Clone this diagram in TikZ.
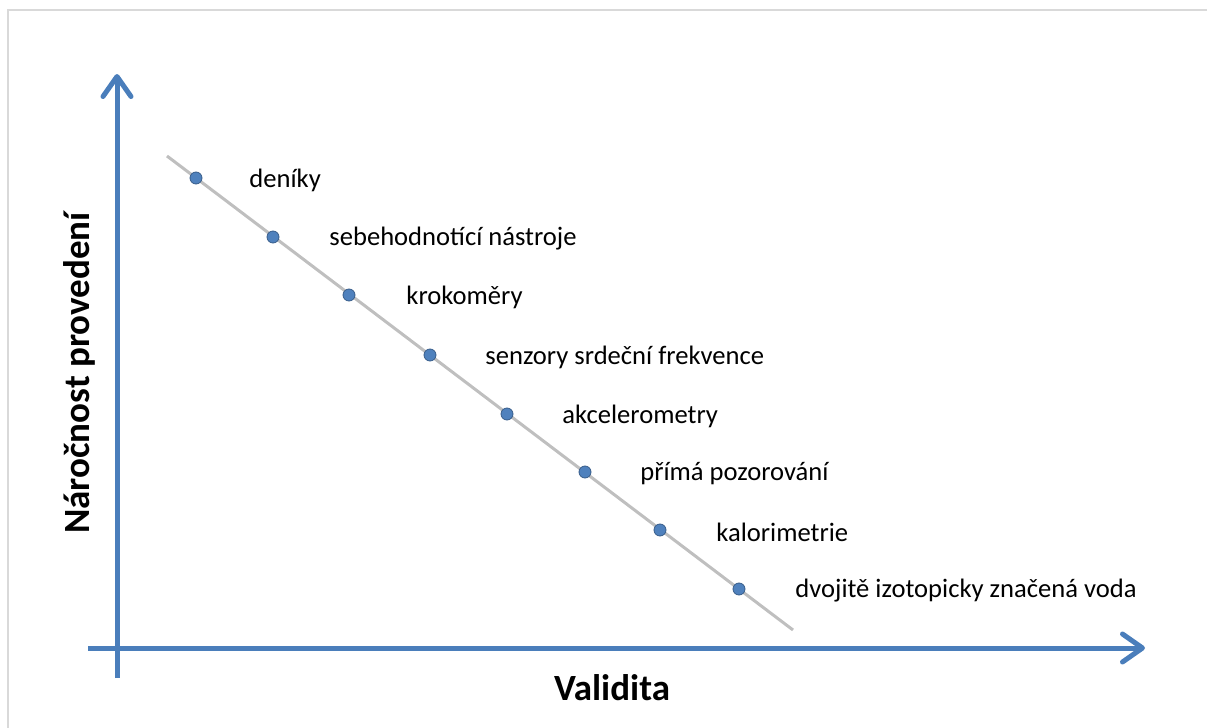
\documentclass[tikz,border=0pt]{standalone}
\usepackage{fontspec}
\setmainfont{Carlito}
\usetikzlibrary{arrows.meta}
\definecolor{axisblue}{HTML}{4A7EBB}
\definecolor{dotblue}{HTML}{4F81BD}
\definecolor{dotedge}{HTML}{385D8A}
\definecolor{trend}{HTML}{BFBFBF}
\definecolor{frame}{HTML}{D9D9D9}
\begin{document}
\begin{tikzpicture}[x=0.5pt,y=-0.5pt]
        \tikzset{
            pt/.style={circle,minimum size=6pt,inner sep=0pt,fill=dotblue,draw=dotedge,line width=0.4pt},
            lab/.style={anchor=west,inner sep=0pt,font=\fontsize{13.3}{16}\selectfont},
            ax/.style={axisblue,line width=2.5pt,-{Straight Barb[length=10pt,width=14pt,round]}},
            tl/.style={trend,line width=1.5pt},
            ttl/.style={font=\fontsize{18.5}{22}\selectfont\bfseries}
            }
            \useasboundingbox (0,0) rectangle (1207,728);
            \draw[frame,line width=1pt] (7.5,728) -- (7.5,10) -- (1207,10);

            \coordinate (l1) at (167,156);
            \coordinate (l2) at (793,630);
            \draw[tl] (l1) -- (l2);

            \node[pt] (n1) at (196,178) {};
            \node[pt] (n2) at (273,237) {};
            \node[pt] (n3) at (349,295) {};
            \node[pt] (n4) at (430,355) {};
            \node[pt] (n5) at (507,414) {};
            \node[pt] (n6) at (585,472) {};
            \node[pt] (n7) at (660,530) {};
            \node[pt] (n8) at (739,589) {};

            \node[lab] (t1) at (249,180) {deníky};
            \node[lab] (t2) at (329,239) {sebehodnotící nástroje};
            \node[lab] (t3) at (406,297) {krokoměry};
            \node[lab] (t4) at (485,357) {senzory srdeční frekvence};
            \node[lab] (t5) at (562,416) {akcelerometry};
            \node[lab] (t6) at (640,474) {přímá pozorování};
            \node[lab] (t7) at (716,532) {kalorimetrie};
            \node[lab] (t8) at (795,591) {dvojitě izotopicky značená voda};

            \coordinate (y0) at (117,678);
            \coordinate (y1) at (117,74);
            \coordinate (x0) at (88,648);
            \coordinate (x1) at (1145,648);
            \draw[ax] (y0) -- (y1);
            \draw[ax] (x0) -- (x1);

            \node[ttl,rotate=90] (ylab) at (79,373) {Náročnost provedení};
            \node[ttl] (xlab) at (612,688) {Validita};
        \end{tikzpicture}
\end{document}
